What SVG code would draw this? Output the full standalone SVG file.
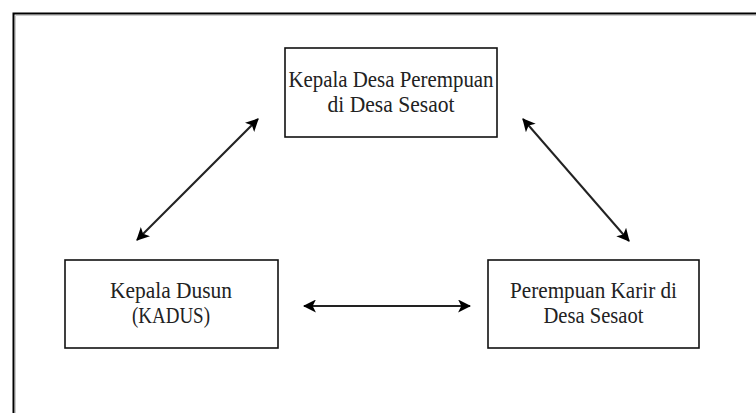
<svg xmlns="http://www.w3.org/2000/svg" width="756" height="413" viewBox="0 0 756 413">
<style>
.box{fill:#fff;stroke:#111;stroke-width:1.6}
.lbl{font-family:"Liberation Serif","Times New Roman",serif;font-size:23px;fill:#222;text-anchor:middle}
.con{stroke:#222;stroke-width:2;fill:none}
</style>
<defs>
<marker id="ah" viewBox="0 0 12 12" refX="11" refY="6" markerWidth="13" markerHeight="13" markerUnits="userSpaceOnUse" orient="auto-start-reverse">
<path d="M0,0 L12,6 L0,12 L3,6 Z" fill="#000"/>
</marker>
</defs>
<rect width="756" height="413" fill="#fff"/>
<g id="frame">
<path d="M13.5,413 V13.5 H756" fill="none" stroke="#000" stroke-width="2"/>
<path d="M15.5,413 V15.5 H756" fill="none" stroke="#ccc" stroke-width="1"/>
</g>
<g id="connectors">
<line class="con" x1="258" y1="119" x2="137" y2="240" marker-start="url(#ah)" marker-end="url(#ah)"/>
<line class="con" x1="523" y1="119" x2="629" y2="241" marker-start="url(#ah)" marker-end="url(#ah)"/>
<line class="con" x1="304" y1="306" x2="470" y2="306" marker-start="url(#ah)" marker-end="url(#ah)"/>
</g>
<g id="kepala-desa">
<rect class="box" x="285" y="48" width="212" height="89"/>
<text class="lbl" x="391" y="87" textLength="205" lengthAdjust="spacingAndGlyphs">Kepala Desa Perempuan</text>
<text class="lbl" x="391" y="112" textLength="127" lengthAdjust="spacingAndGlyphs">di Desa Sesaot</text>
</g>
<g id="kepala-dusun">
<rect class="box" x="65" y="260" width="213" height="88"/>
<text class="lbl" x="171" y="298" textLength="122" lengthAdjust="spacingAndGlyphs">Kepala Dusun</text>
<text class="lbl" x="171" y="323" textLength="78" lengthAdjust="spacingAndGlyphs">(KADUS)</text>
</g>
<g id="perempuan-karir">
<rect class="box" x="488" y="260" width="211" height="88"/>
<text class="lbl" x="593.5" y="298" textLength="167" lengthAdjust="spacingAndGlyphs">Perempuan Karir di</text>
<text class="lbl" x="593.5" y="323" textLength="100" lengthAdjust="spacingAndGlyphs">Desa Sesaot</text>
</g>
</svg>
